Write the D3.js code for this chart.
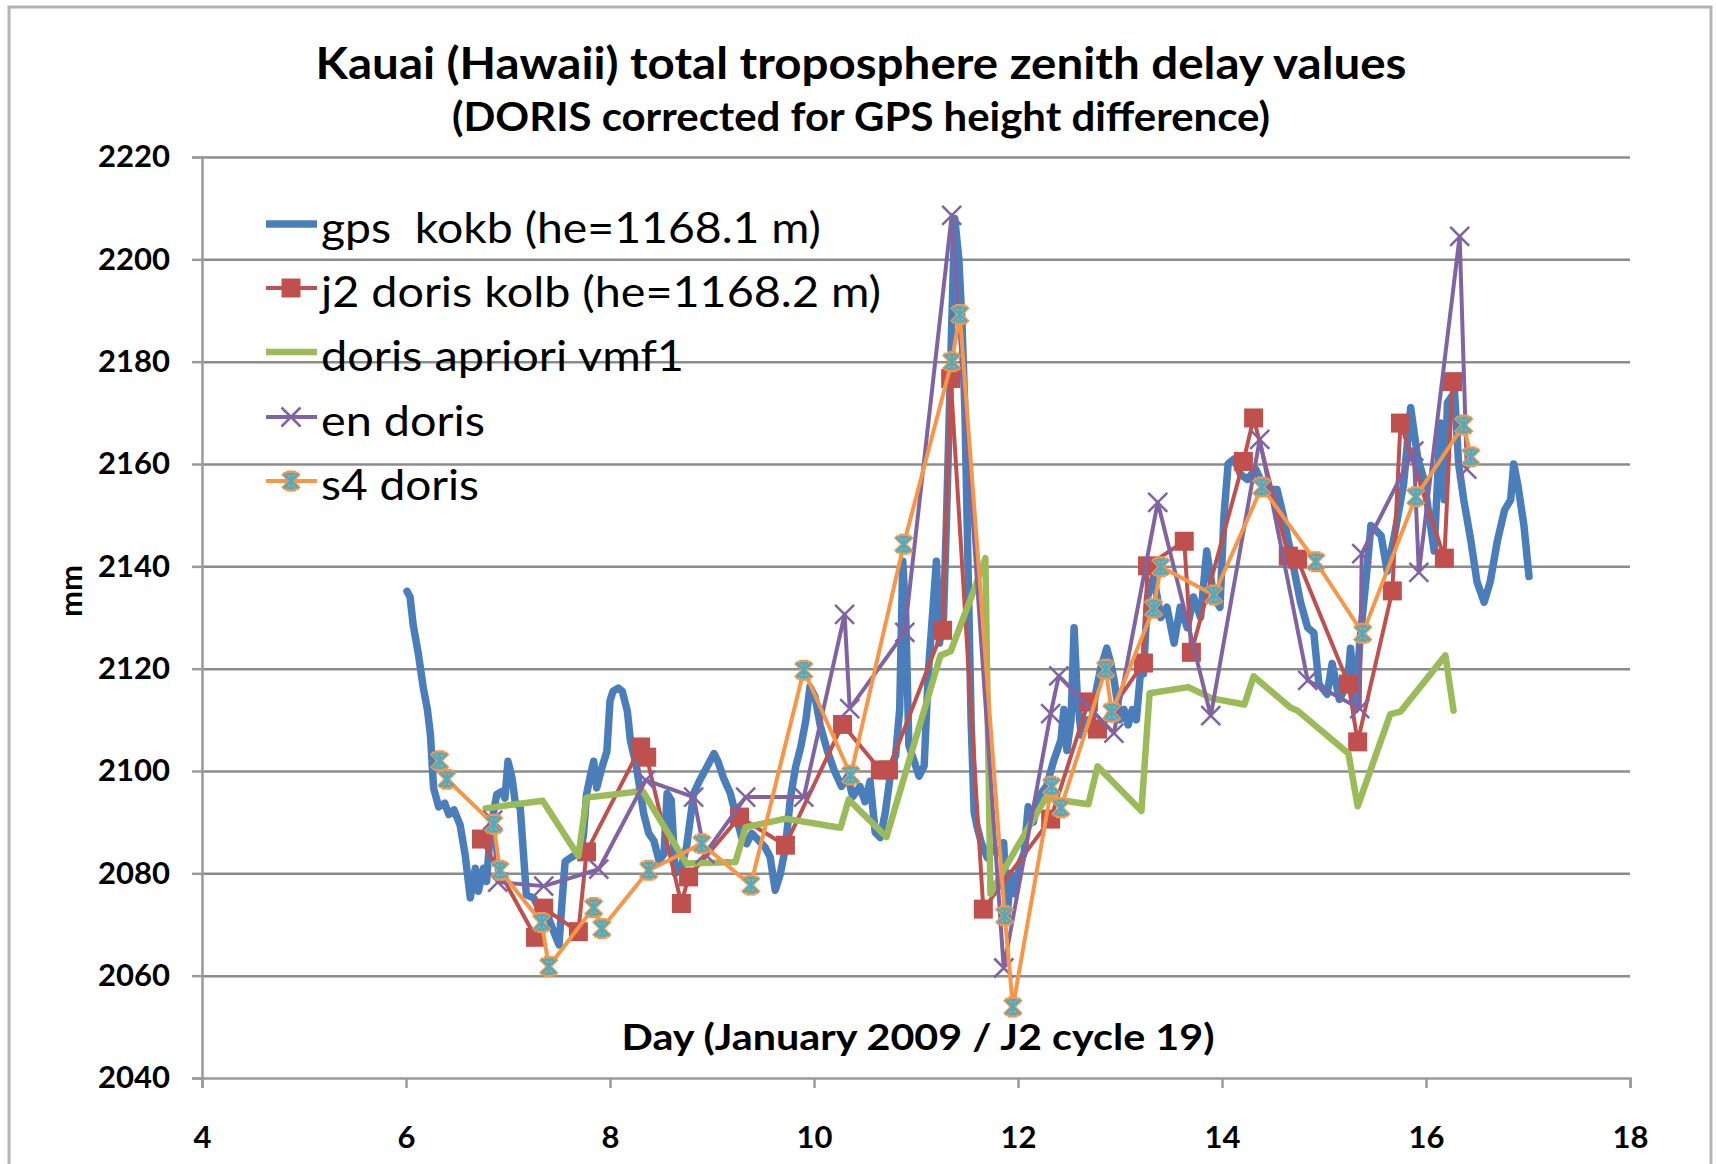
<!DOCTYPE html>
<html>
<head>
<meta charset="utf-8">
<script src="https://cdn.jsdelivr.net/npm/d3@7"></script>
<style>
  body { margin: 0; background: #fff; }
  svg text { font-family: Lato, "Open Sans", sans-serif; fill: #000; }
</style>
</head>
<body>
<div id="main"></div>
<script>
const titleLines = ["Kauai (Hawaii) total troposphere zenith delay values", "(DORIS corrected for GPS height difference)"];
const xTitle = "Day (January 2009 / J2 cycle 19)";
const yTitle = "mm";
const xTicks = [4, 6, 8, 10, 12, 14, 16, 18];
const yTicks = [2040, 2060, 2080, 2100, 2120, 2140, 2160, 2180, 2200, 2220];
const seriesNames = ["gps  kokb (he=1168.1 m)", "j2 doris kolb (he=1168.2 m)", "doris apriori vmf1", "en doris", "s4 doris"];

// [day, mm]
const gpsKokb = [[6.01,2135.1],[6.04,2134],[6.07,2128.6],[6.12,2123],[6.17,2116.2],[6.21,2112],[6.24,2107],[6.27,2096.7],[6.32,2093],[6.38,2093.7],[6.42,2091.5],[6.47,2092.4],[6.53,2089.5],[6.58,2083.6],[6.63,2075.2],[6.68,2081],[6.71,2076.5],[6.76,2081],[6.79,2078.4],[6.83,2088.9],[6.89,2095.4],[6.94,2096],[6.97,2094.7],[7.00,2101.9],[7.04,2098.6],[7.07,2094],[7.12,2092.8],[7.15,2084.3],[7.18,2075.8],[7.25,2075.2],[7.32,2072.6],[7.38,2071.9],[7.41,2070.6],[7.46,2068],[7.50,2066],[7.53,2074.5],[7.56,2082.3],[7.61,2083],[7.66,2083.6],[7.71,2083.6],[7.74,2087.6],[7.77,2095.4],[7.81,2099.3],[7.84,2101.9],[7.87,2096.7],[7.92,2100.6],[7.97,2103.9],[8.00,2113.7],[8.03,2115.6],[8.08,2116.2],[8.12,2115.6],[8.17,2111.7],[8.20,2106],[8.26,2100.8],[8.33,2091.7],[8.38,2087.8],[8.43,2086.4],[8.48,2082.5],[8.53,2083.8],[8.56,2095.6],[8.60,2094.3],[8.64,2080],[8.69,2080.6],[8.75,2085.1],[8.82,2095.6],[8.88,2098.2],[8.95,2100.8],[9.02,2103.4],[9.06,2101.8],[9.11,2098.8],[9.18,2095.6],[9.23,2091.7],[9.29,2087.1],[9.34,2085.8],[9.39,2087.8],[9.46,2086.4],[9.52,2085.1],[9.57,2083.2],[9.62,2076.7],[9.67,2079.9],[9.72,2085.1],[9.77,2094.9],[9.82,2100.8],[9.87,2104.7],[9.92,2109.9],[9.96,2116.4],[10.01,2114.5],[10.06,2109],[10.13,2104],[10.2,2100],[10.27,2097],[10.33,2099],[10.38,2095],[10.45,2097],[10.5,2094],[10.55,2098],[10.6,2088],[10.65,2087],[10.7,2092],[10.76,2101],[10.8,2103],[10.84,2112],[10.87,2141],[10.9,2130],[10.93,2105],[10.98,2102],[11.03,2099],[11.08,2101],[11.12,2119],[11.16,2130],[11.2,2141],[11.23,2125],[11.27,2130],[11.3,2150],[11.34,2180],[11.38,2208],[11.42,2200],[11.45,2188],[11.48,2170],[11.51,2140],[11.54,2110],[11.57,2092],[11.6,2089],[11.64,2086],[11.7,2083],[11.76,2085],[11.82,2084],[11.86,2086],[11.89,2071],[11.93,2080],[11.97,2076],[12.02,2082],[12.06,2084],[12.1,2093],[12.15,2090],[12.2,2095],[12.28,2097],[12.35,2102],[12.42,2106],[12.45,2112],[12.48,2104],[12.52,2110],[12.55,2128],[12.58,2115],[12.62,2107],[12.67,2110],[12.71,2108],[12.76,2115],[12.81,2120],[12.87,2124],[12.91,2121],[12.94,2118],[13.0,2110],[13.04,2112],[13.08,2109],[13.12,2112],[13.16,2110],[13.2,2119],[13.23,2119],[13.27,2134],[13.33,2138],[13.4,2130],[13.46,2132],[13.53,2125],[13.59,2132],[13.66,2128],[13.72,2134],[13.79,2130],[13.85,2143],[13.92,2134],[13.98,2132],[14.02,2150],[14.06,2160],[14.12,2161],[14.18,2158],[14.25,2157],[14.33,2159],[14.4,2156],[14.46,2155],[14.54,2155],[14.6,2150],[14.65,2145],[14.71,2139],[14.77,2133],[14.84,2128],[14.9,2127],[14.95,2117],[15.03,2115],[15.08,2121],[15.15,2114],[15.23,2117],[15.26,2124],[15.31,2112],[15.35,2125],[15.42,2139],[15.46,2148],[15.56,2146],[15.62,2139],[15.69,2146],[15.78,2156],[15.85,2171],[15.92,2161],[15.98,2157],[16.03,2150],[16.08,2143],[16.14,2168],[16.18,2153],[16.21,2172],[16.28,2174],[16.32,2160],[16.37,2153],[16.44,2145],[16.5,2137],[16.57,2133],[16.63,2137],[16.7,2145],[16.77,2151],[16.83,2153],[16.86,2160],[16.9,2156],[16.96,2148],[17.01,2138]];

const j2DorisKolb = [[6.74,2086.7],[7.27,2067.5],[7.35,2073.2],[7.69,2068.6],[7.77,2084.2],[8.30,2104.7],[8.36,2102.7],[8.70,2074.1],[8.77,2079.3],[9.27,2091],[9.72,2085.5],[10.28,2109.1],[10.65,2100.2],[10.73,2100.2],[11.26,2127.5],[11.34,2176.7],[11.66,2073],[12.32,2090.6],[12.69,2113.5],[12.78,2108.2],[13.23,2121.1],[13.27,2140.1],[13.63,2144.9],[13.70,2123.2],[14.21,2160.5],[14.31,2169],[14.65,2142],[14.74,2141.4],[15.24,2117],[15.33,2105.7],[15.67,2135.2],[15.75,2168],[16.18,2141.6],[16.26,2176.1]];

const dorisApriori = [[6.78,2092.7],[7.34,2094.2],[7.69,2083.4],[7.77,2094.8],[8.32,2096.1],[8.75,2081.9],[9.23,2082.2],[9.33,2089],[9.72,2090.7],[10.26,2088.9],[10.34,2094.4],[10.71,2087.1],[11.24,2122.6],[11.34,2123.4],[11.58,2136],[11.68,2141.6],[11.73,2076],[11.87,2081],[12.28,2095],[12.42,2094.3],[12.69,2093.5],[12.78,2100.9],[13.21,2092.2],[13.29,2115.2],[13.67,2116.4],[13.90,2114.2],[14.22,2113],[14.31,2118.5],[14.67,2112.4],[14.74,2111.8],[15.24,2103.4],[15.33,2093.1],[15.65,2111.1],[15.75,2111.6],[16.19,2122.6],[16.27,2111.8]];

const enDoris = [[6.85,2090.4],[6.90,2078.3],[7.35,2077.5],[7.89,2080.8],[8.35,2098.2],[8.82,2094.9],[8.93,2083.8],[9.33,2094.9],[9.90,2094.9],[10.30,2130.6],[10.35,2112.2],[10.89,2127.1],[11.35,2208.6],[11.86,2061.5],[12.32,2111.2],[12.40,2118.6],[12.94,2107.4],[13.37,2152.5],[13.89,2110.8],[14.37,2164.8],[14.84,2117.7],[15.35,2112.2],[15.37,2142.5],[15.88,2162.5],[15.93,2138.8],[16.33,2204.5],[16.40,2159]];

const s4Doris = [[6.33,2102],[6.40,2098.4],[6.86,2089.6],[6.92,2080.6],[7.33,2070.4],[7.40,2061.8],[7.84,2073.3],[7.92,2069.2],[8.38,2080.6],[8.90,2085.8],[9.38,2077.7],[9.90,2119.7],[10.36,2099.2],[10.88,2144.3],[11.35,2180],[11.43,2189.2],[11.87,2071.7],[11.95,2053.9],[12.33,2097],[12.42,2092.8],[12.86,2119.9],[12.92,2111.5],[13.33,2131.8],[13.40,2139.9],[13.92,2134.4],[14.39,2155.5],[14.92,2140.9],[15.38,2126.9],[15.90,2153.6],[16.37,2167.6],[16.44,2161.4]];

class GraficoLinhas {
  constructor(config) {
    this.config = config;
    this.svg = null;
    this.plot = null;
    this.x = null;
    this.y = null;

    this.series = [
      {name: seriesNames[0], data: gpsKokb, color: "#4a7ebb", width: 7.5, marker: null},
      {name: seriesNames[1], data: j2DorisKolb, color: "#c0504d", width: 4, marker: "square"},
      {name: seriesNames[2], data: dorisApriori, color: "#9bbb59", width: 6.5, marker: null},
      {name: seriesNames[3], data: enDoris, color: "#8064a2", width: 4, marker: "x"},
      {name: seriesNames[4], data: s4Doris, color: "#f79646", width: 4, marker: "star"}
    ];

    this.createSvg();
  }

  createSvg() {
    this.svg = d3.select(this.config.div)
      .append("svg")
      .attr("width", this.config.totalWidth)
      .attr("height", this.config.totalHeight);

    // chart frame
    this.svg.append("rect")
      .attr("x", 9).attr("y", 7)
      .attr("width", 1702).attr("height", 1190)
      .attr("fill", "#fff")
      .attr("stroke", "#b4b4b4")
      .attr("stroke-width", 3);

    this.plot = this.svg.append("g")
      .attr("transform", `translate(${this.config.left},${this.config.top})`);
  }

  createScales() {
    this.x = d3.scaleLinear().domain([xTicks[0], xTicks[xTicks.length - 1]]).range([0, this.config.width]);
    this.y = d3.scaleLinear().domain([yTicks[0], yTicks[yTicks.length - 1]]).range([this.config.height, 0]);
  }

  createAxis() {
    // horizontal gridlines
    this.plot.append("g")
      .call(d3.axisLeft(this.y).tickValues(yTicks.slice(1)).tickSize(-this.config.width).tickFormat(""))
      .call(g => g.select(".domain").remove())
      .call(g => g.selectAll("line").attr("stroke", "#8c8c8c").attr("stroke-width", 2.5));

    let yAxis = d3.axisLeft(this.y).tickValues(yTicks).tickSize(10).tickPadding(22).tickFormat(d3.format("d"));
    this.plot.append("g")
      .call(yAxis)
      .call(g => g.select(".domain").attr("stroke", "#9a9a9a").attr("stroke-width", 2.5))
      .call(g => g.selectAll("line").attr("stroke", "#9a9a9a").attr("stroke-width", 2.5))
      .call(g => g.selectAll("text").style("font-size", "31px").style("font-weight", "bold"));

    let xAxis = d3.axisBottom(this.x).tickValues(xTicks).tickSize(10).tickPadding(38).tickFormat(d3.format("d"));
    this.plot.append("g")
      .attr("transform", "translate(0," + this.config.height + ")")
      .call(xAxis)
      .call(g => g.select(".domain").attr("stroke", "#9a9a9a").attr("stroke-width", 2.5))
      .call(g => g.selectAll("line").attr("stroke", "#9a9a9a").attr("stroke-width", 2.5))
      .call(g => g.selectAll("text").style("font-size", "31px").style("font-weight", "bold"));
  }

  markerPath(type, s) {
    if (type === "square") return `M${-s},${-s}H${s}V${s}H${-s}Z`;
    if (type === "x") return `M${-s},${-s}L${s},${s}M${-s},${s}L${s},${-s}`;
    return `M${-s},${-s}L${s},${s}M${-s},${s}L${s},${-s}M0,${-s}V${s}M${-s * 0.6},${-s}H${s * 0.6}M${-s * 0.6},${s}H${s * 0.6}`;
  }

  drawMarker(g, type, color) {
    if (type === "square") {
      g.append("path").attr("d", this.markerPath("square", 9.5)).attr("fill", color);
    } else if (type === "x") {
      g.append("path").attr("d", this.markerPath("x", 9.5)).attr("fill", "none")
        .attr("stroke", color).attr("stroke-width", 2.5);
    } else if (type === "star") {
      g.append("path").attr("d", this.markerPath("star", 8)).attr("fill", "none")
        .attr("stroke", color).attr("stroke-width", 5);
      g.append("path").attr("d", this.markerPath("star", 7)).attr("fill", "none")
        .attr("stroke", "#4bacc6").attr("stroke-width", 2.5);
    }
  }

  createSeries() {
    let line = d3.line()
      .x(d => this.x(d[0]))
      .y(d => this.y(d[1]));

    this.series.forEach(s => {
      let g = this.plot.append("g");
      g.append("path")
        .datum(s.data)
        .attr("fill", "none")
        .attr("stroke", s.color)
        .attr("stroke-width", s.width)
        .attr("stroke-linejoin", "round")
        .attr("stroke-linecap", "round")
        .attr("d", line);

      if (s.marker) {
        let self = this;
        g.selectAll(".mk")
          .data(s.data)
          .enter()
          .append("g")
          .attr("transform", d => `translate(${this.x(d[0])},${this.y(d[1])})`)
          .each(function() { self.drawMarker(d3.select(this), s.marker, s.color); });
      }
    });
  }

  createLegend() {
    let lg = this.svg.append("g");
    let baselines = [243, 307, 371, 436, 500];
    let widths = [500, 560, 363, 164, 158];
    let self = this;
    this.series.forEach((s, i) => {
      let cy = baselines[i] - 19;
      lg.append("line")
        .attr("x1", 266).attr("x2", 317)
        .attr("y1", cy).attr("y2", cy)
        .attr("stroke", s.color)
        .attr("stroke-width", s.width);
      if (s.marker) {
        let m = lg.append("g").attr("transform", `translate(291,${cy})`);
        self.drawMarker(m, s.marker, s.color);
      }
      lg.append("text")
        .attr("x", 321).attr("y", baselines[i])
        .attr("textLength", widths[i])
        .attr("lengthAdjust", "spacingAndGlyphs")
        .attr("xml:space", "preserve")
        .style("white-space", "pre")
        .style("font-size", "42px")
        .text(s.name);
    });
  }

  createTitles() {
    this.svg.append("text")
      .attr("x", 861).attr("y", 79)
      .attr("text-anchor", "middle")
      .attr("textLength", 1091)
      .attr("lengthAdjust", "spacingAndGlyphs")
      .style("font-size", "44px").style("font-weight", "bold")
      .text(titleLines[0]);

    this.svg.append("text")
      .attr("x", 861).attr("y", 131)
      .attr("text-anchor", "middle")
      .attr("textLength", 818)
      .attr("lengthAdjust", "spacingAndGlyphs")
      .style("font-size", "40px").style("font-weight", "bold")
      .text(titleLines[1]);

    this.svg.append("text")
      .attr("x", 918).attr("y", 1050)
      .attr("text-anchor", "middle")
      .attr("textLength", 593)
      .attr("lengthAdjust", "spacingAndGlyphs")
      .style("font-size", "37px").style("font-weight", "bold")
      .text(xTitle);

    this.svg.append("text")
      .attr("transform", "translate(82,591) rotate(-90)")
      .attr("text-anchor", "middle")
      .style("font-size", "31px").style("font-weight", "bold")
      .text(yTitle);
  }
}

function main() {
  let c = {div: '#main', totalWidth: 1716, totalHeight: 1164, width: 1428, height: 921, top: 157, left: 202};
  let a = new GraficoLinhas(c);
  a.createScales();
  a.createAxis();
  a.createSeries();
  a.createLegend();
  a.createTitles();
}

main();
</script>
</body>
</html>
